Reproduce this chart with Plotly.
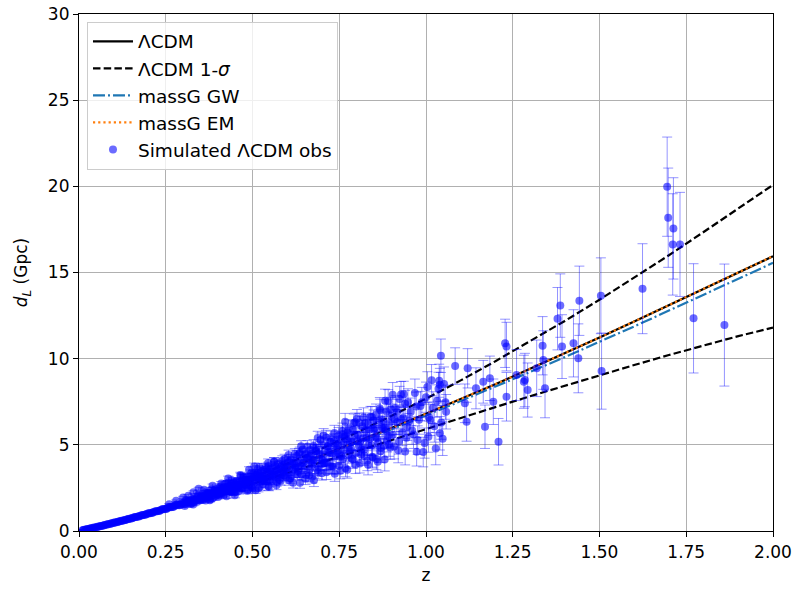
import plotly.graph_objects as go

# ---- model curves ----
z_model = [0.0, 0.1, 0.2, 0.3, 0.4, 0.5, 0.6, 0.7, 0.8, 0.9, 1.0,
           1.1, 1.2, 1.3, 1.4, 1.5, 1.6, 1.7, 1.8, 1.9, 2.0]
dl_lcdm = [0.0, 0.47, 1.01, 1.60, 2.24, 2.92, 3.63, 4.38, 5.17, 5.97, 6.80,
           7.65, 8.52, 9.41, 10.31, 11.23, 12.16, 13.10, 14.06, 15.02, 15.94]
dl_upper = [0.0, 0.48, 1.04, 1.66, 2.36, 3.11, 3.91, 4.78, 5.71, 6.67, 7.68,
            8.74, 9.85, 11.00, 12.19, 13.42, 14.69, 16.00, 17.35, 18.73, 20.08]
dl_lower = [0.0, 0.46, 0.98, 1.54, 2.12, 2.73, 3.35, 3.98, 4.63, 5.27, 5.92,
            6.56, 7.19, 7.82, 8.43, 9.04, 9.63, 10.21, 10.77, 11.31, 11.80]
dl_gw = [0.0, 0.47, 1.01, 1.59, 2.23, 2.90, 3.60, 4.34, 5.11, 5.89, 6.70,
         7.53, 8.37, 9.23, 10.09, 10.96, 11.87, 12.79, 13.72, 14.66, 15.56]
dl_em = [0.0, 0.47, 1.01, 1.60, 2.24, 2.92, 3.63, 4.38, 5.17, 5.97, 6.80,
         7.65, 8.52, 9.41, 10.31, 11.23, 12.16, 13.10, 14.06, 15.02, 15.95]

# ---- simulated observations ----
z_a = [0.010, 0.015, 0.020, 0.025, 0.030, 0.035, 0.040, 0.045, 0.050, 0.055,
       0.060, 0.065, 0.070, 0.075, 0.080, 0.085, 0.090, 0.095, 0.100, 0.105,
       0.110, 0.115, 0.120, 0.125, 0.130, 0.135, 0.140, 0.145, 0.150, 0.155,
       0.160, 0.165, 0.170, 0.175, 0.180, 0.185, 0.190, 0.195, 0.200, 0.205,
       0.210, 0.215, 0.220, 0.225, 0.230, 0.235, 0.240, 0.245, 0.250, 0.255,
       0.260, 0.265, 0.270, 0.275, 0.280, 0.285, 0.290, 0.295]
d_a = [0.045, 0.068, 0.091, 0.112, 0.134, 0.158, 0.182, 0.203, 0.224, 0.250,
       0.276, 0.296, 0.318, 0.346, 0.372, 0.394, 0.418, 0.446, 0.475, 0.494,
       0.516, 0.548, 0.577, 0.596, 0.619, 0.655, 0.688, 0.705, 0.728, 0.766,
       0.801, 0.815, 0.836, 0.877, 0.912, 0.922, 0.943, 0.990, 1.026, 1.030,
       1.048, 1.100, 1.141, 1.140, 1.162, 1.220, 1.265, 1.255, 1.276, 1.340,
       1.392, 1.375, 1.393, 1.460, 1.520, 1.490, 1.500, 1.590]
e_a = [0.000, 0.000, 0.000, 0.000, 0.001, 0.001, 0.001, 0.001, 0.002, 0.002,
       0.002, 0.003, 0.003, 0.003, 0.004, 0.004, 0.005, 0.006, 0.006, 0.007,
       0.007, 0.008, 0.009, 0.010, 0.011, 0.011, 0.012, 0.013, 0.014, 0.015,
       0.016, 0.018, 0.019, 0.020, 0.021, 0.022, 0.024, 0.025, 0.026, 0.028,
       0.029, 0.031, 0.032, 0.034, 0.035, 0.037, 0.039, 0.040, 0.042, 0.044,
       0.046, 0.048, 0.050, 0.052, 0.054, 0.056, 0.058, 0.060]

z_a2 = [0.0125, 0.0225, 0.0325, 0.0425, 0.0525, 0.0625, 0.0725, 0.0825,
        0.0925, 0.1025, 0.1125, 0.1225, 0.1325, 0.1425, 0.1525, 0.1625,
        0.1725, 0.1825, 0.1925, 0.2025, 0.2125, 0.2225, 0.2325, 0.2425,
        0.2525, 0.2625, 0.2725, 0.2825, 0.2925]
d_a2 = [0.056, 0.101, 0.146, 0.195, 0.240, 0.290, 0.337, 0.389, 0.434, 0.490,
        0.535, 0.593, 0.637, 0.700, 0.741, 0.809, 0.848, 0.921, 0.957, 1.036,
        1.067, 1.153, 1.180, 1.274, 1.293, 1.398, 1.410, 1.525, 1.527]
e_a2 = [0.000, 0.000, 0.001, 0.001, 0.002, 0.002, 0.003, 0.004, 0.005, 0.006,
        0.008, 0.009, 0.011, 0.013, 0.015, 0.017, 0.019, 0.022, 0.024, 0.027,
        0.030, 0.033, 0.036, 0.040, 0.043, 0.047, 0.051, 0.055, 0.059]

z_b = [0.300, 0.305, 0.310, 0.315, 0.320, 0.325, 0.330, 0.335, 0.340, 0.345,
       0.350, 0.355, 0.360, 0.365, 0.370, 0.375, 0.380, 0.385, 0.390, 0.395,
       0.400, 0.405, 0.410, 0.415, 0.420, 0.425, 0.430, 0.435, 0.440, 0.445,
       0.450, 0.455, 0.460, 0.465, 0.470, 0.475, 0.480, 0.485, 0.490, 0.495,
       0.500, 0.505, 0.510, 0.515, 0.520, 0.525, 0.530, 0.535, 0.540, 0.545,
       0.550, 0.555, 0.560, 0.565, 0.570, 0.575, 0.580, 0.585, 0.590, 0.595]
d_b = [1.631, 1.553, 1.766, 1.669, 1.785, 1.604, 1.800, 1.905, 1.784, 2.067,
       1.785, 1.948, 2.045, 1.954, 2.221, 1.967, 2.152, 1.896, 2.318, 2.185,
       2.333, 2.068, 2.612, 2.275, 2.409, 2.285, 2.644, 2.293, 2.524, 2.821,
       2.258, 2.700, 2.577, 2.837, 2.444, 3.102, 2.763, 2.904, 2.668, 3.145,
       2.464, 3.130, 2.851, 3.370, 2.998, 3.137, 2.720, 3.429, 3.020, 3.762,
       2.942, 3.400, 3.291, 3.775, 2.858, 3.633, 3.332, 3.820, 3.232, 3.595]
e_b = [0.062, 0.064, 0.066, 0.069, 0.072, 0.074, 0.077, 0.079, 0.082, 0.084,
       0.087, 0.090, 0.093, 0.096, 0.098, 0.101, 0.104, 0.107, 0.110, 0.113,
       0.116, 0.120, 0.123, 0.126, 0.129, 0.133, 0.136, 0.140, 0.144, 0.147,
       0.151, 0.154, 0.158, 0.162, 0.166, 0.170, 0.173, 0.177, 0.182, 0.186,
       0.190, 0.194, 0.198, 0.203, 0.207, 0.211, 0.216, 0.220, 0.225, 0.229,
       0.234, 0.238, 0.243, 0.248, 0.253, 0.258, 0.263, 0.268, 0.273, 0.278]

z_b2 = [0.3025, 0.3075, 0.3125, 0.3175, 0.3225, 0.3275, 0.3325, 0.3375,
        0.3425, 0.3475, 0.3525, 0.3575, 0.3625, 0.3675, 0.3725, 0.3775,
        0.3825, 0.3875, 0.3925, 0.3975, 0.4025, 0.4075, 0.4125, 0.4175,
        0.4225, 0.4275, 0.4325, 0.4375, 0.4425, 0.4475, 0.4525, 0.4575,
        0.4625, 0.4675, 0.4725, 0.4775, 0.4825, 0.4875, 0.4925, 0.4975,
        0.5025, 0.5075, 0.5125, 0.5175, 0.5225, 0.5275, 0.5325, 0.5375,
        0.5425, 0.5475, 0.5525, 0.5575, 0.5625, 0.5675, 0.5725, 0.5775,
        0.5825, 0.5875, 0.5925, 0.5975]
d_b2 = [1.567, 1.769, 1.670, 1.748, 1.564, 1.858, 1.702, 1.859, 2.080, 1.857,
        2.019, 1.803, 2.016, 1.943, 2.219, 1.822, 2.210, 2.127, 2.423, 2.101,
        2.315, 2.217, 2.494, 2.103, 2.761, 2.395, 2.579, 2.282, 2.527, 2.236,
        2.849, 2.517, 2.720, 2.498, 3.125, 2.694, 2.987, 2.390, 2.994, 2.604,
        3.317, 2.953, 3.264, 2.474, 3.201, 2.922, 3.536, 3.204, 2.902, 2.565,
        3.638, 3.203, 4.013, 3.147, 3.508, 2.979, 3.770, 3.462, 4.178, 3.139]
e_b2 = e_b

z_c = [0.600, 0.606, 0.612, 0.618, 0.624, 0.630, 0.636, 0.642, 0.648, 0.654,
       0.660, 0.666, 0.672, 0.678, 0.684, 0.690, 0.696, 0.702, 0.708, 0.714,
       0.720, 0.726, 0.732, 0.738, 0.744, 0.750, 0.756, 0.762, 0.768, 0.774,
       0.780, 0.786, 0.792, 0.798, 0.804, 0.810, 0.816, 0.822, 0.828, 0.834,
       0.840, 0.846, 0.852, 0.858, 0.864, 0.870, 0.876, 0.882, 0.888, 0.894]
d_c = [3.517, 4.051, 3.187, 3.946, 3.810, 3.507, 4.544, 3.781, 4.292, 3.246,
       4.185, 4.696, 3.842, 4.141, 4.639, 3.726, 5.296, 4.115, 4.648, 3.950,
       4.582, 5.364, 3.748, 5.034, 4.585, 5.328, 4.344, 5.059, 3.637, 5.711,
       4.705, 5.161, 6.263, 4.512, 5.583, 5.195, 6.085, 4.375, 5.394, 4.970,
       6.630, 4.259, 5.957, 5.383, 6.384, 4.823, 5.975, 7.563, 5.264, 6.266]
e_c = [0.283, 0.289, 0.296, 0.302, 0.309, 0.316, 0.322, 0.329, 0.336, 0.343,
       0.350, 0.357, 0.364, 0.371, 0.379, 0.386, 0.394, 0.401, 0.409, 0.417,
       0.425, 0.433, 0.441, 0.449, 0.457, 0.465, 0.474, 0.482, 0.491, 0.499,
       0.508, 0.517, 0.526, 0.535, 0.544, 0.553, 0.562, 0.571, 0.581, 0.590,
       0.600, 0.609, 0.619, 0.628, 0.638, 0.648, 0.658, 0.668, 0.678, 0.688]

z_c2 = [0.603, 0.609, 0.615, 0.621, 0.627, 0.633, 0.639, 0.645, 0.651, 0.657,
        0.663, 0.669, 0.675, 0.681, 0.687, 0.693, 0.699, 0.705, 0.711, 0.717,
        0.723, 0.729, 0.735, 0.741, 0.747, 0.753, 0.759, 0.765, 0.771, 0.777,
        0.783, 0.789, 0.795, 0.801, 0.807, 0.813, 0.819, 0.825, 0.831, 0.837,
        0.843, 0.849, 0.855, 0.861, 0.867, 0.873, 0.879, 0.885, 0.891, 0.897]
d_c2 = [3.964, 3.062, 3.861, 3.577, 4.358, 3.436, 3.923, 4.725, 3.677, 4.264,
        3.228, 4.469, 4.084, 4.795, 3.563, 4.405, 4.137, 5.542, 3.976, 4.932,
        4.521, 3.742, 5.226, 4.339, 4.974, 3.491, 5.789, 4.696, 5.526, 4.436,
        5.185, 4.150, 5.550, 6.515, 4.953, 4.443, 5.377, 6.283, 4.081, 5.878,
        4.973, 6.414, 5.485, 4.024, 7.109, 6.012, 4.946, 5.849, 7.524, 4.844]
e_c2 = e_c

z_d = [0.900, 0.908, 0.916, 0.924, 0.932, 0.940, 0.948, 0.956, 0.964, 0.972,
       0.980, 0.988, 0.996, 1.004, 1.012, 1.020, 1.028, 1.036, 1.044, 1.052,
       0.637, 0.700, 0.672, 0.767]
d_d = [6.668, 4.897, 6.324, 7.654, 5.707, 4.606, 7.467, 6.916, 5.606, 7.228,
       6.461, 7.472, 5.102, 8.350, 6.448, 7.155, 4.782, 8.254, 6.297, 8.529,
       2.800, 3.350, 3.150, 6.340]
e_d = [0.698, 0.713, 0.727, 0.741, 0.756, 0.770, 0.785, 0.800, 0.815, 0.830,
       0.845, 0.860, 0.876, 0.892, 0.908, 0.924, 0.940, 0.957, 0.974, 0.990,
       0.322, 0.399, 0.364, 0.485]

z_d2 = [0.904, 0.912, 0.920, 0.928, 0.936, 0.944, 0.952, 0.960, 0.968, 0.976,
        0.984, 0.992, 1.000, 1.008, 1.016, 1.024, 1.032, 1.040, 1.048, 1.056]
d_d2 = [5.585, 7.142, 4.686, 6.502, 7.933, 5.410, 6.402, 5.830, 8.003, 5.274,
        7.256, 4.582, 7.764, 6.600, 8.752, 6.080, 7.542, 8.480, 5.357, 7.474]
e_d2 = [0.698, 0.713, 0.727, 0.741, 0.756, 0.770, 0.785, 0.800, 0.815, 0.830,
        0.845, 0.860, 0.876, 0.892, 0.908, 0.924, 0.940, 0.957, 0.974, 0.990]

z_e = [0.352, 0.358, 0.364, 0.370, 0.376, 0.382, 0.388, 0.394, 0.400, 0.406,
       0.412, 0.418, 0.424, 0.430, 0.436, 0.442, 0.448, 0.454, 0.460, 0.466,
       0.472, 0.478, 0.484, 0.490, 0.496, 0.502, 0.508, 0.514, 0.520, 0.526,
       0.532, 0.538, 0.544, 0.550, 0.556, 0.562, 0.568, 0.574, 0.580, 0.586,
       0.592, 0.598, 0.604, 0.610, 0.616, 0.622, 0.628, 0.634, 0.640, 0.646,
       0.652, 0.658, 0.664, 0.670, 0.676, 0.682, 0.688, 0.694, 0.700, 0.706,
       0.712, 0.718, 0.724, 0.730, 0.736, 0.742, 0.748, 0.754, 0.760, 0.766,
       0.772, 0.778, 0.784, 0.790, 0.796, 0.802, 0.808, 0.814, 0.820, 0.826,
       0.832, 0.838, 0.844, 0.850, 0.856, 0.862, 0.868, 0.874, 0.880, 0.886,
       0.892, 0.898, 0.904, 0.910, 0.916, 0.922, 0.928, 0.934, 0.940, 0.946]
d_e = [2.060, 1.994, 2.234, 1.986, 2.186, 2.429, 2.173, 2.404, 2.124, 2.544,
       2.393, 2.524, 2.358, 2.795, 2.609, 2.755, 2.443, 2.908, 2.703, 3.186,
       2.908, 2.680, 3.144, 2.977, 3.358, 2.896, 3.251, 3.583, 3.101, 3.463,
       2.948, 3.698, 3.411, 3.551, 3.216, 4.017, 3.526, 3.933, 3.201, 4.097,
       3.849, 3.616, 4.407, 4.146, 3.540, 4.470, 3.934, 4.461, 4.911, 3.942,
       4.463, 4.899, 4.323, 3.938, 4.938, 4.659, 5.403, 4.491, 5.018, 3.940,
       5.429, 4.904, 5.172, 4.484, 5.686, 4.797, 5.540, 4.425, 5.617, 5.483,
       5.293, 5.954, 4.785, 5.874, 6.308, 5.240, 6.279, 4.723, 6.580, 5.840,
       6.189, 5.355, 6.613, 5.878, 6.743, 5.095, 7.003, 6.417, 6.009, 6.938,
       5.495, 7.066, 7.909, 6.485, 6.906, 5.197, 7.926, 6.556, 7.378, 6.039]
e_e = [0.088, 0.092, 0.095, 0.098, 0.102, 0.105, 0.109, 0.113, 0.117, 0.120,
       0.124, 0.128, 0.132, 0.136, 0.141, 0.145, 0.149, 0.154, 0.158, 0.163,
       0.167, 0.172, 0.177, 0.182, 0.187, 0.192, 0.197, 0.202, 0.207, 0.212,
       0.217, 0.223, 0.228, 0.234, 0.239, 0.245, 0.251, 0.257, 0.263, 0.269,
       0.275, 0.281, 0.287, 0.294, 0.300, 0.307, 0.314, 0.320, 0.327, 0.334,
       0.341, 0.348, 0.355, 0.362, 0.369, 0.376, 0.384, 0.391, 0.399, 0.406,
       0.414, 0.422, 0.430, 0.438, 0.446, 0.454, 0.462, 0.471, 0.479, 0.488,
       0.496, 0.505, 0.514, 0.523, 0.532, 0.541, 0.550, 0.559, 0.568, 0.578,
       0.587, 0.596, 0.606, 0.616, 0.625, 0.635, 0.645, 0.655, 0.665, 0.675,
       0.685, 0.695, 0.706, 0.716, 0.727, 0.738, 0.749, 0.759, 0.770, 0.781]

z_f = [0.305, 0.317, 0.329, 0.341, 0.353, 0.365, 0.377, 0.389, 0.401, 0.413,
       0.425, 0.437, 0.449, 0.461, 0.473, 0.485, 0.497, 0.509, 0.521, 0.533,
       0.545, 0.557, 0.569, 0.581, 0.593, 0.605, 0.617, 0.629, 0.641, 0.653,
       0.665, 0.677, 0.689, 0.701, 0.713, 0.725, 0.737, 0.749, 0.761, 0.773,
       0.785, 0.797, 0.809, 0.821, 0.833, 0.845, 0.857, 0.869, 0.881, 0.893]
d_f = [1.449, 1.595, 1.535, 1.692, 1.828, 1.765, 1.783, 1.972, 1.978, 2.200,
       2.020, 2.263, 2.074, 2.314, 2.496, 2.336, 2.543, 2.371, 2.569, 2.911,
       2.593, 2.911, 2.652, 2.916, 3.222, 2.947, 2.793, 3.282, 3.282, 3.036,
       3.584, 2.949, 3.413, 3.908, 3.403, 3.758, 3.326, 3.788, 4.185, 3.560,
       4.225, 3.866, 3.919, 4.711, 3.845, 4.315, 4.184, 4.623, 4.152, 5.021]
e_f = [0.065, 0.070, 0.076, 0.082, 0.089, 0.096, 0.102, 0.110, 0.117, 0.125,
       0.133, 0.141, 0.150, 0.159, 0.168, 0.178, 0.187, 0.197, 0.208, 0.218,
       0.229, 0.240, 0.252, 0.264, 0.276, 0.289, 0.301, 0.315, 0.328, 0.342,
       0.356, 0.370, 0.385, 0.400, 0.416, 0.432, 0.447, 0.464, 0.481, 0.498,
       0.515, 0.533, 0.551, 0.570, 0.589, 0.608, 0.627, 0.646, 0.666, 0.687]

z_g = [0.260, 0.280, 0.300, 0.315, 0.330, 0.345, 0.360, 0.385,
       0.410, 0.430, 0.440, 0.465, 0.490, 0.505, 0.520, 0.545]
d_g = [1.55, 1.75, 1.95, 2.05, 2.25, 2.45, 2.40, 2.62,
       2.75, 3.05, 2.95, 3.25, 3.55, 3.75, 3.72, 3.95]
e_g = [0.045, 0.050, 0.060, 0.070, 0.080, 0.085, 0.090, 0.105,
       0.120, 0.135, 0.140, 0.160, 0.180, 0.190, 0.210, 0.230]

z_hi = [1.695, 1.698, 1.713, 1.711, 1.732, 1.624, 1.504, 1.442, 1.387, 1.379,
        1.771, 1.860, 1.506, 1.336, 1.392, 1.425, 1.439, 1.338, 1.343, 1.293,
        1.282, 1.228, 1.232, 1.261, 1.319, 1.209, 1.170, 1.043, 1.084, 1.120,
        1.165, 1.184, 1.285, 1.112, 1.117, 1.038, 1.058, 0.973, 1.007, 1.040,
        1.144, 1.194, 1.232]
d_hi = [19.98, 18.18, 17.56, 16.63, 16.63, 14.06, 13.65, 13.36, 13.08, 12.32,
        12.34, 11.95, 9.28, 10.75, 10.70, 10.89, 10.02, 9.92, 8.28, 8.18,
        8.66, 10.89, 10.70, 9.05, 9.44, 5.18, 6.05, 10.17, 9.57, 9.44,
        8.66, 8.86, 8.76, 7.41, 6.34, 8.72, 6.92, 4.60, 5.47, 5.67,
        8.28, 7.50, 7.79]
e_hi = [2.88, 2.88, 2.94, 2.94, 3.02, 2.61, 2.20, 2.01, 1.84, 1.81,
        3.17, 3.54, 2.21, 1.69, 1.85, 1.95, 2.00, 1.70, 1.71, 1.57,
        1.54, 1.40, 1.41, 1.48, 1.64, 1.35, 1.26, 0.97, 1.06, 1.14,
        1.24, 1.29, 1.55, 1.12, 1.13, 0.96, 1.00, 0.83, 0.90, 0.97,
        1.19, 1.32, 1.41]

x_ticks = [0.0, 0.25, 0.5, 0.75, 1.0, 1.25, 1.5, 1.75, 2.0]
x_ticktext = ["0.00", "0.25", "0.50", "0.75", "1.00", "1.25", "1.50", "1.75", "2.00"]
y_ticks = [0, 5, 10, 15, 20, 25, 30]

z_obs = z_a + z_a2 + z_b + z_b2 + z_c + z_c2 + z_d + z_d2 + z_e + z_f + z_g + z_hi
dl_obs = d_a + d_a2 + d_b + d_b2 + d_c + d_c2 + d_d + d_d2 + d_e + d_f + d_g + d_hi
dl_err = e_a + e_a2 + e_b + e_b2 + e_c + e_c2 + e_d + e_d2 + e_e + e_f + e_g + e_hi

FONT = "DejaVu Sans"
fig = go.Figure()

fig.add_trace(go.Scatter(x=z_model, y=dl_lcdm, mode="lines", name="ΛCDM",
                         legendgroup="a",
                         line=dict(color="black", width=2.2)))
fig.add_trace(go.Scatter(x=z_model + [None] + z_model,
                         y=dl_upper + [None] + dl_lower, mode="lines",
                         name="ΛCDM 1-<i>σ</i>", legendgroup="b",
                         line=dict(color="black", width=2.2, dash="7.5px,3.2px")))
fig.add_trace(go.Scatter(x=z_model, y=dl_gw, mode="lines", name="massG GW",
                         legendgroup="c",
                         line=dict(color="#1f77b4", width=2.2,
                                   dash="12px,3px,2px,3px")))
fig.add_trace(go.Scatter(x=z_model, y=dl_em, mode="lines", name="massG EM",
                         legendgroup="d",
                         line=dict(color="#ff7f0e", width=2.2, dash="2.2px,3px")))
fig.add_trace(go.Scatter(x=z_obs, y=dl_obs, mode="markers",
                         name="Simulated ΛCDM obs", legendgroup="e",
                         marker=dict(size=8, color="rgba(0,0,255,0.58)",
                                     line=dict(width=0)),
                         error_y=dict(type="data", array=dl_err, visible=True,
                                      color="rgba(0,0,255,0.42)",
                                      thickness=1, width=5)))

axis_common = dict(showgrid=True, gridcolor="#b0b0b0", gridwidth=1,
                   showline=True, linecolor="black", linewidth=1.25,
                   mirror=True, ticks="outside", ticklen=5, tickwidth=1.25,
                   tickcolor="black", zeroline=False, automargin=False,
                   tickfont=dict(family=FONT, size=17, color="black"))

fig.update_xaxes(range=[0, 2], tickvals=x_ticks, ticktext=x_ticktext,
                 title=dict(text="z", font=dict(family=FONT, size=17),
                            standoff=8),
                 **axis_common)
fig.update_yaxes(range=[0, 30], tickvals=y_ticks,
                 title=dict(text="<i>d</i><sub><i>L</i></sub> (Gpc)",
                            font=dict(family=FONT, size=17)),
                 **axis_common)

fig.update_layout(
    width=796, height=593,
    margin=dict(l=79, r=23, t=14, b=62),
    plot_bgcolor="white", paper_bgcolor="white",
    font=dict(family=FONT, size=17, color="black"),
    showlegend=True,
    legend=dict(x=0.0115, y=0.985, xanchor="left", yanchor="top",
                bgcolor="rgba(255,255,255,0.8)", bordercolor="#cccccc",
                borderwidth=1, font=dict(family=FONT, size=18.5),
                tracegroupgap=3.6, itemwidth=40, traceorder="normal"),
)

fig.write_html("out.html")
